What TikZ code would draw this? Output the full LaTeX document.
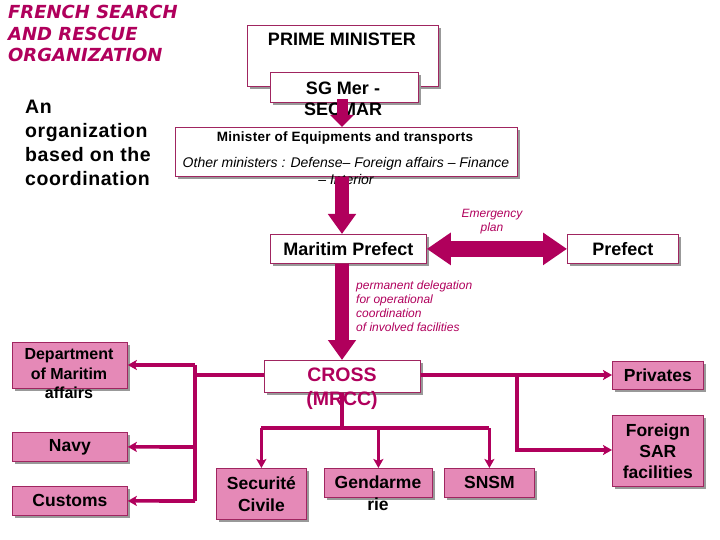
\documentclass[tikz,border=0pt]{standalone}
\usepackage{fontspec}
\setmainfont{Liberation Sans}
\newfontfamily\titlefont{DejaVu Sans}
\usetikzlibrary{arrows.meta,shadows}
\definecolor{SarMagenta}{HTML}{B0005C}
\definecolor{SarPink}{HTML}{E589B7}
\definecolor{SarEdge}{HTML}{A02560}
\begin{document}
\begin{tikzpicture}[x=1pt,y=-1pt,>=Latex,
    boxbase/.style={draw=SarEdge,line width=0.8pt,inner sep=0pt,anchor=north west,
      drop shadow={shadow xshift=3pt,shadow yshift=-3pt,fill=black!40,opacity=1}},
    whitebox/.style={boxbase,fill=white},
    pinkbox/.style={boxbase,fill=SarPink},
    boxtext/.style={font=\bfseries\fontsize{17.5}{21}\selectfont,align=center,inner sep=0pt},
    notetext/.style={font=\itshape\fontsize{12}{14}\selectfont,text=SarMagenta,align=left,inner sep=0pt},
    link/.style={draw=SarMagenta,line width=3.6pt},
    linkarrow/.style={link,-{Stealth[length=9pt,width=10pt,inset=2pt]}},
    bigarrow/.style={draw=SarMagenta,line width=#1}]
  \useasboundingbox (0,0) rectangle (720,540);
  % title and subtitle
  \node[anchor=north west,inner sep=0pt,align=left,text=SarMagenta,
    font=\titlefont\bfseries\itshape\fontsize{18}{21.5}\selectfont] (title) at (8,5)
    {FRENCH SEARCH\\AND RESCUE\\ORGANIZATION};
  \node[anchor=north west,inner sep=0pt,align=left,
    font=\bfseries\fontsize{19.5}{24}\selectfont\addfontfeature{LetterSpace=3}] (subtitle) at (25,100)
    {An\\organization\\based on the\\coordination};
  % upper boxes
  \node[whitebox,minimum width=191,minimum height=61] (pm) at (247,25) {};
  \node[boxtext,font=\bfseries\fontsize{18}{21}\selectfont] (pmtext) at (342,39) {PRIME MINISTER};
  \node[whitebox,minimum width=148,minimum height=30] (sg) at (270,72) {};
  \node[boxtext,font=\bfseries\fontsize{18}{21}\selectfont] (sgtext) at (343,98.5) {SG Mer -\\SECMAR};
  \node[whitebox,minimum width=342,minimum height=49] (mini) at (175,127) {};
  \node[boxtext,font=\bfseries\fontsize{13.5}{15}\selectfont\addfontfeature{LetterSpace=2}] (minitext) at (345,138)
    {Minister of Equipments and transports};
  \node[boxtext,font=\itshape\fontsize{14}{17.5}\selectfont] (othertext) at (346,171)
    {Other ministers : Defense– Foreign affairs – Finance\\– Interior};
  \node[whitebox,minimum width=156,minimum height=29] (mp) at (270,234) {};
  \node[boxtext,font=\bfseries\fontsize{18}{21}\selectfont] (mptext) at (mp.center) {Maritim Prefect};
  \node[whitebox,minimum width=111,minimum height=29] (pref) at (567,234) {};
  \node[boxtext,font=\bfseries\fontsize{18}{21}\selectfont] (preftext) at (pref.center) {Prefect};
  \node[notetext,align=center] (emerg) at (492,222) {Emergency\\plan};
  \node[notetext,anchor=north west] (deleg) at (356,281)
    {permanent delegation\\for operational\\coordination\\of involved facilities};
  % CROSS and the facilities
  \node[whitebox,minimum width=156,minimum height=32] (cross) at (264,360) {};
  \node[boxtext,text=SarMagenta,font=\bfseries\fontsize{19.5}{24}\selectfont] (crosstext) at (342,389)
    {CROSS\\(MRCC)};
  \node[pinkbox,minimum width=115,minimum height=46] (dept) at (12,342) {};
  \node[boxtext,font=\bfseries\fontsize{16}{19.5}\selectfont] (depttext) at (69,374)
    {Department\\of Maritim\\affairs};
  \node[pinkbox,minimum width=115,minimum height=29] (navy) at (12,432) {};
  \node[boxtext] (navytext) at (navy.center) {Navy};
  \node[pinkbox,minimum width=115,minimum height=29] (cust) at (12,486) {};
  \node[boxtext] (custtext) at (cust.center) {Customs};
  \node[pinkbox,minimum width=90,minimum height=51] (secu) at (216,468) {};
  \node[boxtext,font=\bfseries\fontsize{17.5}{22}\selectfont] (secutext) at (secu.center) {Securité\\Civile};
  \node[pinkbox,minimum width=108,minimum height=29] (gend) at (324,468) {};
  \node[boxtext,font=\bfseries\fontsize{17.5}{22}\selectfont] (gendtext) at (378,493) {Gendarme\\rie};
  \node[pinkbox,minimum width=90,minimum height=29] (snsm) at (444,468) {};
  \node[boxtext] (snsmtext) at (snsm.center) {SNSM};
  \node[pinkbox,minimum width=91,minimum height=28] (priv) at (612,361) {};
  \node[boxtext] (privtext) at (priv.center) {Privates};
  \node[pinkbox,minimum width=91,minimum height=71] (fsar) at (612,415) {};
  \node[boxtext,font=\bfseries\fontsize{17.5}{21}\selectfont] (fsartext) at (fsar.center)
    {Foreign\\SAR\\facilities};
  % big arrows of the chain of command
  \coordinate (axis) at (342,0);
  \draw[bigarrow=11pt,-{Triangle[length=12pt,width=23pt]}] (342,99) -- (mini.north -| axis);
  \draw[bigarrow=14pt,-{Triangle[length=20pt,width=27pt]}] (mini.south -| axis) -- (mp.north -| axis);
  \draw[bigarrow=16pt,{Triangle[length=24pt,width=31pt]}-{Triangle[length=24pt,width=31pt]}]
    (mp.east) -- (pref.west);
  \draw[bigarrow=14pt,-{Triangle[length=20pt,width=27pt]}] (mp.south -| axis) -- (cross.north -| axis);
  % dispatch lines from CROSS
  \coordinate (leftbus) at (195,375);
  \coordinate (rightbus) at (517,375);
  \coordinate (downbus) at (342,428);
  \draw[link] (cross.west |- leftbus) -- (leftbus);
  \draw[link] (195,365) -- (195,501);
  \draw[linkarrow] (195,365) -- (dept.east |- 0,365);
  \draw[linkarrow] (195,447) -- (navy.east);
  \draw[linkarrow] (195,501) -- (cust.east);
  \draw[linkarrow] (cross.east |- rightbus) -- (priv.west |- rightbus);
  \draw[linkarrow] (rightbus) |- (fsar.west |- 0,450);
  \draw[link] (cross.south -| axis) -- (downbus);
  \draw[link] (secu.north |- downbus) -- (snsm.north |- downbus);
  \draw[linkarrow] (secu.north |- downbus) -- (secu.north);
  \draw[linkarrow] (gend.north |- downbus) -- (gend.north);
  \draw[linkarrow] (snsm.north |- downbus) -- (snsm.north);
\end{tikzpicture}
\end{document}
